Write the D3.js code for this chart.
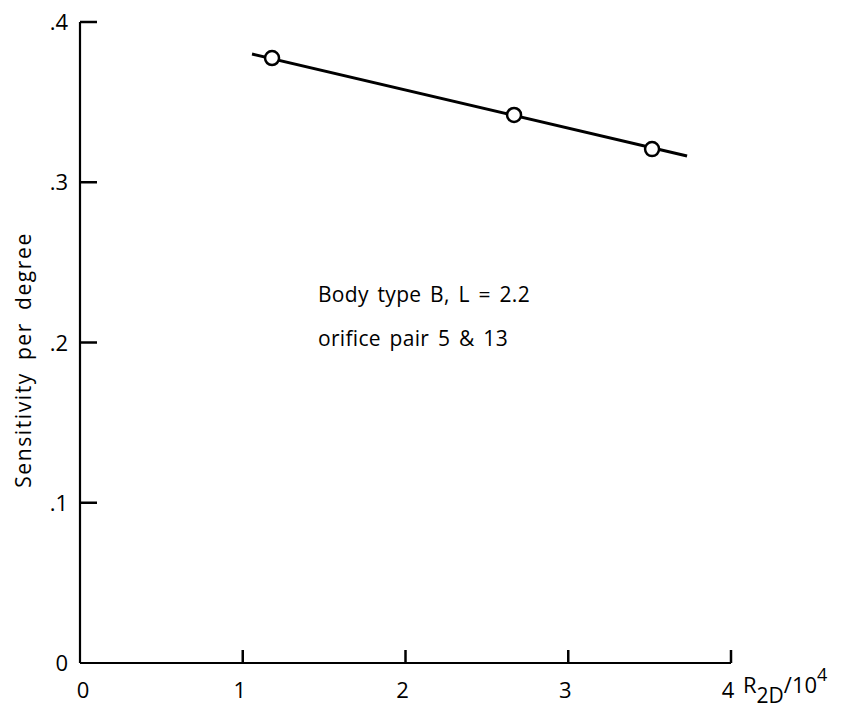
<!DOCTYPE html>
<html>
<head>
<meta charset="utf-8">
<script src="https://cdn.jsdelivr.net/npm/d3@7"></script>
<style>
  html, body { margin: 0; padding: 0; background: #fff; }
  svg { display: block; }
  text { font-family: "Open Sans", "DejaVu Sans", sans-serif; fill: #000; }
</style>
</head>
<body>
<svg id="chart" width="857" height="710"></svg>
<script>
// ---- data ----
const xTicks = [0, 1, 2, 3, 4];
const xTickLabels = ["0", "1", "2", "3", "4"];
const yTicks = [0, 0.1, 0.2, 0.3, 0.4];
const yTickLabels = ["0", ".1", ".2", ".3", ".4"];
const pointsX = [1.18, 2.667, 3.515];
const pointsY = [0.3775, 0.342, 0.3207];
const fitX = [1.057, 3.73];
const fitY = [0.380, 0.3164];
const annotation = ["Body type B, L = 2.2", "orifice pair 5 & 13"];
const yTitle = "Sensitivity per degree";

// ---- layout ----
const svg = d3.select("#chart");
const x = d3.scaleLinear().domain([0, 4]).range([80, 731]);
const y = d3.scaleLinear().domain([0, 0.4]).range([663, 22]);

// axes lines
const g = svg.append("g");
g.append("line").attr("x1", x(0)).attr("x2", x(4)).attr("y1", y(0)).attr("y2", y(0))
  .attr("stroke", "#000").attr("stroke-width", 2.2);
g.append("line").attr("x1", x(0)).attr("x2", x(0)).attr("y1", y(0)).attr("y2", y(0.4))
  .attr("stroke", "#000").attr("stroke-width", 2.2);

// x ticks (upward)
g.selectAll(".xt").data(xTicks.filter(d => d > 0)).enter().append("line")
  .attr("x1", d => x(d)).attr("x2", d => x(d))
  .attr("y1", y(0)).attr("y2", y(0) - 13)
  .attr("stroke", "#000").attr("stroke-width", 2.5);
// y ticks (rightward)
g.selectAll(".yt").data(yTicks.filter(d => d > 0)).enter().append("line")
  .attr("x1", x(0)).attr("x2", x(0) + 17)
  .attr("y1", d => y(d)).attr("y2", d => y(d))
  .attr("stroke", "#000").attr("stroke-width", 2.5);

// x tick labels
g.selectAll(".xl").data(xTicks).enter().append("text")
  .attr("x", (d, i) => x(d) + (i === 0 ? 3 : -3))
  .attr("y", 698)
  .attr("text-anchor", "middle")
  .attr("font-size", 22)
  .text((d, i) => xTickLabels[i]);

// y tick labels
g.selectAll(".yl").data(yTicks).enter().append("text")
  .attr("x", 68)
  .attr("y", d => y(d) + 8)
  .attr("text-anchor", "end")
  .attr("font-size", 22)
  .text((d, i) => yTickLabels[i]);

// x axis title R_2D/10^4
const xt = g.append("text").attr("x", 743).attr("y", 693).attr("font-size", 22);
xt.append("tspan").text("R");
xt.append("tspan").attr("dy", 10).attr("font-size", 21).text("2D");
xt.append("tspan").attr("dy", -10).text("/10");
xt.append("tspan").attr("dy", -12).attr("font-size", 18).text("4");

// y axis title
g.append("text")
  .attr("transform", "translate(31,360) rotate(-90)")
  .attr("text-anchor", "middle")
  .attr("font-size", 21)
  .attr("letter-spacing", 1.6)
  .attr("word-spacing", 5)
  .text(yTitle);

// fitted line
g.append("line")
  .attr("x1", x(fitX[0])).attr("y1", y(fitY[0]))
  .attr("x2", x(fitX[1])).attr("y2", y(fitY[1]))
  .attr("stroke", "#000").attr("stroke-width", 3);

// points
g.selectAll(".pt").data(pointsX).enter().append("circle")
  .attr("cx", d => x(d)).attr("cy", (d, i) => y(pointsY[i]))
  .attr("r", 7)
  .attr("fill", "#fff").attr("stroke", "#000").attr("stroke-width", 2.5);

// annotation
g.selectAll(".ann").data(annotation).enter().append("text")
  .attr("x", 318)
  .attr("y", (d, i) => 302 + i * 44)
  .attr("font-size", 21)
  .attr("letter-spacing", 0.3)
  .attr("word-spacing", 3)
  .text(d => d);
</script>
</body>
</html>
